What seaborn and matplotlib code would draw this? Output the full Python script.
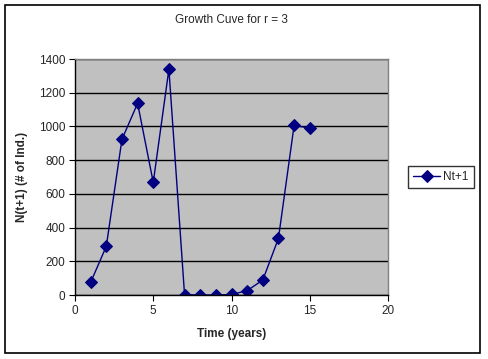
import matplotlib
matplotlib.use('Agg')
import matplotlib.pyplot as plt
import seaborn as sns
import pandas as pd
from matplotlib.patches import Rectangle

time_years = [1, 2, 3, 4, 5, 6, 7, 8, 9, 10, 11, 12, 13, 14, 15]
nt_plus_1 = [75, 289, 923, 1137, 668, 1339, 2, 0, 0, 3, 26, 89, 336, 1006, 990]

df = pd.DataFrame({'Time (years)': time_years, 'Nt+1': nt_plus_1})

sns.set_style('white')
plt.rcParams['font.family'] = ['Liberation Sans', 'DejaVu Sans']

fig = plt.figure(figsize=(4.88, 3.59), dpi=100)
ax = fig.add_axes([75 / 488, (359 - 295) / 359, (388 - 75) / 488, (295 - 59) / 359])

# outer frame of the chart
fig.patches.append(Rectangle((5 / 488, 6 / 359), 475 / 488, 348 / 359, transform=fig.transFigure,
                             fill=False, edgecolor='black', linewidth=1.2))

ax.set_facecolor('#c0c0c0')
sns.lineplot(data=df, x='Time (years)', y='Nt+1', ax=ax, color='#000080', linewidth=1,
             marker='D', markersize=6.5, markeredgecolor='#000080', label='Nt+1')

ax.set_xlim(0, 20)
ax.set_ylim(0, 1400)
ax.set_xticks(range(0, 21, 5))
ax.set_yticks(range(0, 1401, 200))
ax.yaxis.grid(True, color='black', linewidth=1)
ax.set_axisbelow(True)
ax.tick_params(axis='both', labelsize=8.5, length=4, direction='out', color='black',
               left=True, bottom=True, pad=3)
for side in ['left', 'bottom']:
    ax.spines[side].set_color('black')
    ax.spines[side].set_linewidth(1)
for side in ['top', 'right']:
    ax.spines[side].set_color('#808080')
    ax.spines[side].set_linewidth(1)

ax.set_title('Growth Cuve for r = 3', fontsize=8.5, pad=26)
ax.set_xlabel('Time (years)', fontsize=8.5, fontweight='bold', labelpad=8)
ax.set_ylabel('N(t+1) (# of Ind.)', fontsize=8.5, fontweight='bold', labelpad=8)

leg = ax.legend(loc='center left', bbox_to_anchor=(1.064, 0.5), fontsize=8.5, frameon=True,
                fancybox=False, edgecolor='black', borderpad=0.45, handlelength=2.3,
                handletextpad=0.2, borderaxespad=0)
leg.get_frame().set_linewidth(1)

plt.savefig('out.png', dpi=100)
